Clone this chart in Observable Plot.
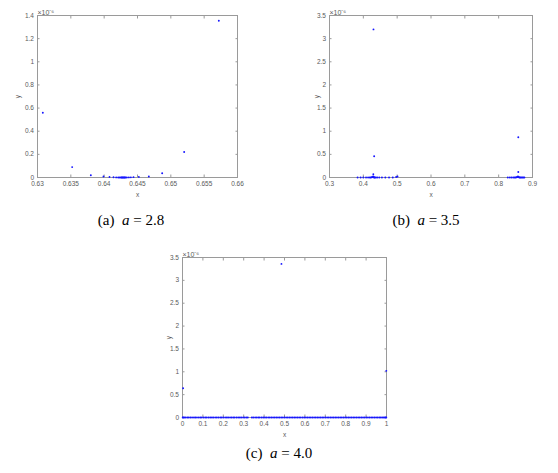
<!DOCTYPE html>
<html><head><meta charset="utf-8">
<script src="https://cdn.jsdelivr.net/npm/d3@7"></script>
<script src="https://cdn.jsdelivr.net/npm/@observablehq/plot@0.6"></script>
<style>
body{margin:0;background:#fff;}
#fig{position:relative;width:558px;height:473px;overflow:hidden;background:#fff;}
.panel{position:absolute;}
.cap{position:absolute;font-family:"Liberation Serif","Times New Roman",serif;font-size:15px;color:#000;white-space:pre;transform:translateX(-50%);line-height:1;}
</style></head><body><div id="fig"></div>
<script>
// y values are in units of 1e-6
// Panel (a): a = 2.8
const aX = [0.6308, 0.6352, 0.6380, 0.6399, 0.6408, 0.6414, 0.6418, 0.6421, 0.6423, 0.6425, 0.6426, 0.6427, 0.6428, 0.6429, 0.6430, 0.6431, 0.6432, 0.6434, 0.6437, 0.6440, 0.6444, 0.6452, 0.6467, 0.6487, 0.6520, 0.6572];
const aY = [0.56, 0.09, 0.02, 0.008, 0.004, 0.002, 0.001, 0.0005, 0.0002, 0.0001, 0, 0, 0, 0, 0, 0, 0.0001, 0.0003, 0.0008, 0.0015, 0.003, 0.005, 0.008, 0.037, 0.22, 1.355];
const aXTicks = [0.63, 0.635, 0.64, 0.645, 0.65, 0.655, 0.66];
const aYTicks = [0, 0.2, 0.4, 0.6, 0.8, 1, 1.2, 1.4];

// Panel (b): a = 3.5
const bX = [0.383, 0.392, 0.400, 0.408, 0.414, 0.419, 0.422, 0.425, 0.427, 0.429, 0.430, 0.431, 0.432, 0.434, 0.437, 0.441, 0.447, 0.455, 0.465, 0.476, 0.487, 0.497, 0.501, 0.4295, 0.432, 0.430,
            0.827, 0.833, 0.838, 0.843, 0.847, 0.850, 0.853, 0.855, 0.857, 0.858, 0.860, 0.862, 0.864, 0.867, 0.870, 0.873, 0.876, 0.858, 0.858];
const bY = [0, 0, 0, 0, 0, 0, 0, 0.005, 0.01, 0.02, 0.01, 0.005, 0, 0, 0, 0, 0, 0, 0, 0, 0, 0.01, 0.02, 0.07, 0.46, 3.2,
            0, 0, 0, 0, 0, 0, 0.005, 0.01, 0.02, 0.01, 0.005, 0, 0, 0, 0, 0, 0, 0.12, 0.87];
const bXTicks = [0.3, 0.4, 0.5, 0.6, 0.7, 0.8, 0.9];
const bYTicks = [0, 0.5, 1, 1.5, 2, 2.5, 3, 3.5];

// Panel (c): a = 4.0
const cX = [0.001, 0.004, 0.009, 0.016, 0.024, 0.031, 0.039, 0.047, 0.056, 0.063, 0.071, 0.080, 0.088, 0.095, 0.104, 0.112, 0.119, 0.128, 0.136, 0.144, 0.151, 0.160, 0.168, 0.176, 0.185, 0.192, 0.200, 0.209, 0.217, 0.224, 0.233, 0.241, 0.249, 0.256, 0.265, 0.273, 0.281, 0.288, 0.297, 0.305, 0.313, 0.320, 0.340, 0.347, 0.356, 0.364, 0.372, 0.379, 0.388, 0.396, 0.404, 0.411, 0.420, 0.428, 0.436, 0.444, 0.452, 0.460, 0.468, 0.476, 0.484, 0.492, 0.500, 0.508, 0.516, 0.524, 0.532, 0.540, 0.548, 0.556, 0.564, 0.572, 0.580, 0.589, 0.597, 0.605, 0.613, 0.621, 0.629, 0.637, 0.645, 0.653, 0.661, 0.669, 0.677, 0.685, 0.693, 0.701, 0.709, 0.717, 0.725, 0.733, 0.741, 0.749, 0.757, 0.765, 0.773, 0.781, 0.789, 0.797, 0.805, 0.813, 0.821, 0.829, 0.837, 0.845, 0.853, 0.861, 0.869, 0.877, 0.885, 0.893, 0.901, 0.909, 0.917, 0.925, 0.933, 0.941, 0.949, 0.957, 0.965, 0.972, 0.979, 0.986, 0.992, 0.996, 0.999,
            0.003, 0.485, 0.999];
const cY = [0, 0, 0, 0, 0, 0, 0, 0, 0, 0, 0, 0, 0, 0, 0, 0, 0, 0, 0, 0, 0, 0, 0, 0, 0, 0, 0, 0, 0, 0, 0, 0, 0, 0, 0, 0, 0, 0, 0, 0, 0, 0, 0, 0, 0, 0, 0, 0, 0, 0, 0, 0, 0, 0, 0, 0, 0, 0, 0, 0, 0, 0, 0, 0, 0, 0, 0, 0, 0, 0, 0, 0, 0, 0, 0, 0, 0, 0, 0, 0, 0, 0, 0, 0, 0, 0, 0, 0, 0, 0, 0, 0, 0, 0, 0, 0, 0, 0, 0, 0, 0, 0, 0, 0, 0, 0, 0, 0, 0, 0, 0, 0, 0, 0, 0, 0, 0, 0, 0, 0, 0, 0, 0, 0, 0, 0, 0,
            0.64, 3.36, 1.02];
const cXTicks = [0, 0.1, 0.2, 0.3, 0.4, 0.5, 0.6, 0.7, 0.8, 0.9, 1];
const cYTicks = [0, 0.5, 1, 1.5, 2, 2.5, 3, 3.5];

const expLabel = "×10⁻⁶";
const captions = [["(a)", "a", " = 2.8"], ["(b)", "a", " = 3.5"], ["(c)", "a", " = 4.0"]];

const fmt = d => String(+d.toFixed(4));
const fig = document.getElementById("fig");

function panel(o) {
  const data = o.xs.map((x, i) => ({x, y: o.ys[i]}));
  const svg = Plot.plot({
    width: o.width, height: o.height,
    marginLeft: o.mL, marginRight: o.mR, marginTop: o.mT, marginBottom: o.mB,
    style: {fontFamily: "'Liberation Sans', Arial, sans-serif", fontSize: "6.5px", color: "#5a5a5a", background: "transparent"},
    x: {domain: o.xDomain},
    y: {domain: o.yDomain},
    marks: [
      Plot.frame({stroke: "#9a9a9a"}),
      Plot.axisX(o.xTicks, {anchor: "bottom", tickSize: -2.5, tickPadding: 6, tickFormat: fmt, label: "x", labelAnchor: "center", labelOffset: 19, labelArrow: "none", stroke: "#9a9a9a"}),
      Plot.axisX(o.xTicks, {anchor: "top", tickSize: -2.5, tickFormat: () => "", label: null, stroke: "#9a9a9a"}),
      Plot.axisY(o.yTicks, {anchor: "left", tickSize: -2.5, tickPadding: 6, tickFormat: fmt, label: "y", labelAnchor: "center", labelOffset: o.yLab, labelArrow: "none", stroke: "#9a9a9a"}),
      Plot.axisY(o.yTicks, {anchor: "right", tickSize: -2.5, tickFormat: () => "", label: null, stroke: "#9a9a9a"}),
      Plot.text([expLabel], {frameAnchor: "top-left", text: d => d, textAnchor: "start", lineAnchor: "bottom", dy: -1, fontSize: 7}),
      Plot.dot(data, {x: "x", y: "y", r: 0.95, fill: "#1515ff", stroke: "none"})
    ]
  });
  const div = document.createElement("div");
  div.className = "panel";
  div.style.left = o.left + "px";
  div.style.top = o.top + "px";
  div.appendChild(svg);
  fig.appendChild(div);
}

panel({left: 0, top: 0, width: 260, height: 205, mL: 37, mR: 23, mT: 15, mB: 28,
  xDomain: [0.63, 0.66], yDomain: [0, 1.4], xTicks: aXTicks, yTicks: aYTicks, xs: aX, ys: aY, yLab: 22});
panel({left: 280, top: 0, width: 278, height: 205, mL: 49, mR: 26, mT: 15, mB: 28,
  xDomain: [0.3, 0.9], yDomain: [0, 3.5], xTicks: bXTicks, yTicks: bYTicks, xs: bX, ys: bY, yLab: 15});
panel({left: 150, top: 230, width: 260, height: 215, mL: 32, mR: 24, mT: 27, mB: 28,
  xDomain: [0, 1], yDomain: [0, 3.5], xTicks: cXTicks, yTicks: cYTicks, xs: cX, ys: cY, yLab: 16});

const capPos = [[131, 213], [426, 213], [279, 446]];
captions.forEach((c, i) => {
  const el = document.createElement("div");
  el.className = "cap";
  el.style.left = capPos[i][0] + "px";
  el.style.top = capPos[i][1] + "px";
  el.innerHTML = c[0] + "  <i>" + c[1] + "</i>" + c[2];
  fig.appendChild(el);
});
</script>
</body></html>
